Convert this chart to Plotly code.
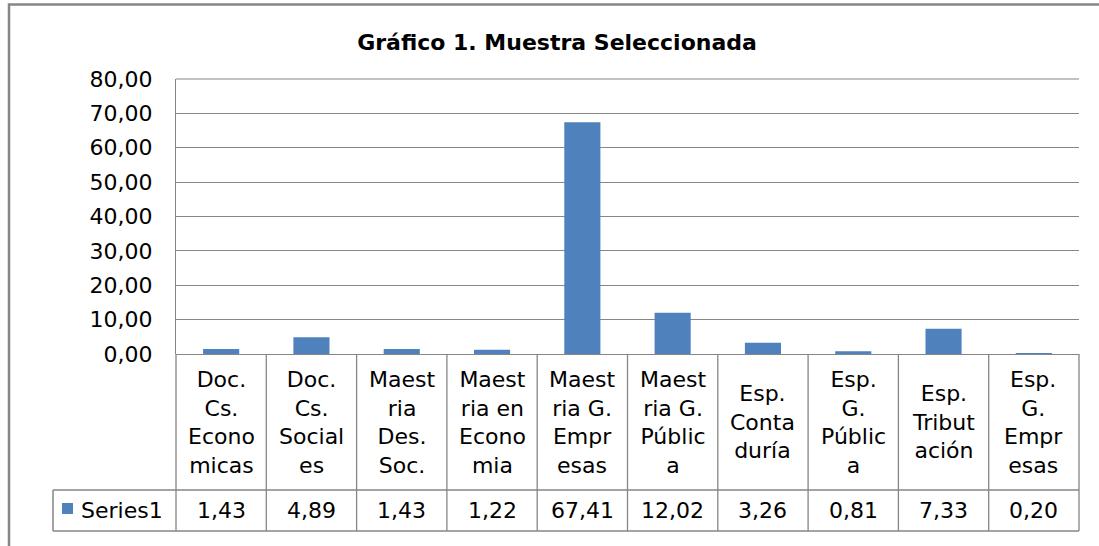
import plotly.graph_objects as go

# ---- data ----
categories = [
    "Doc. Cs. Economicas", "Doc. Cs. Sociales", "Maestria Des. Soc.",
    "Maestria en Economia", "Maestria G. Empresas", "Maestria G. Pública",
    "Esp. Contaduría", "Esp. G. Pública", "Esp. Tributación", "Esp. G. Empresas",
]
category_lines = [
    ["Doc.", "Cs.", "Econo", "micas"],
    ["Doc.", "Cs.", "Social", "es"],
    ["Maest", "ria", "Des.", "Soc."],
    ["Maest", "ria en", "Econo", "mia"],
    ["Maest", "ria G.", "Empr", "esas"],
    ["Maest", "ria G.", "Públic", "a"],
    ["Esp.", "Conta", "duría"],
    ["Esp.", "G.", "Públic", "a"],
    ["Esp.", "Tribut", "ación"],
    ["Esp.", "G.", "Empr", "esas"],
]
series_name = "Series1"
values = [1.43, 4.89, 1.43, 1.22, 67.41, 12.02, 3.26, 0.81, 7.33, 0.20]
y_ticks = [0, 10, 20, 30, 40, 50, 60, 70, 80]
title_text = "Gráfico 1. Muestra Seleccionada"

# ---- style ----
W, H = 1099, 546
ML, MR, MT, MB = 176, 20, 79, 192
PW, PH = W - ML - MR, H - MT - MB
BAR = "#4F81BD"
LINE = "#868686"
FONT = "DejaVu Sans"
FS = 22

def px_x(px):  # pixel -> paper x
    return (px - ML) / PW

def px_y(py):  # pixel -> paper y
    return (H - MB - py) / PH

fig = go.Figure(go.Bar(x=categories, y=values, marker_color=BAR,
                       marker_line_width=0, name=series_name))

n = len(categories)
row1_bot = px_y(490)
row2_bot = px_y(531)

shapes = []
# top gridline (at the range edge)
shapes.append(dict(type="line", xref="paper", yref="paper",
                   x0=0, x1=1, y0=1, y1=1, line=dict(color=LINE, width=1.2)))
# vertical table lines
for k in range(n + 1):
    shapes.append(dict(type="line", xref="paper", yref="paper",
                       x0=k / n, x1=k / n, y0=0, y1=row2_bot,
                       line=dict(color=LINE, width=1.3)))
# horizontal table lines
for yy in (row1_bot, row2_bot):
    shapes.append(dict(type="line", xref="paper", yref="paper",
                       x0=px_x(53), x1=1, y0=yy, y1=yy,
                       line=dict(color=LINE, width=1.5)))
# legend cell left edge
shapes.append(dict(type="line", xref="paper", yref="paper",
                   x0=px_x(53), x1=px_x(53), y0=row1_bot, y1=row2_bot,
                   line=dict(color=LINE, width=1.5)))
# legend key
shapes.append(dict(type="rect", xref="paper", yref="paper",
                   x0=px_x(62), x1=px_x(73), y0=px_y(514), y1=px_y(503),
                   fillcolor=BAR, line=dict(width=0)))
# outer chart border
shapes.append(dict(type="rect", xref="paper", yref="paper",
                   x0=px_x(9), x1=px_x(1110), y0=px_y(560), y1=px_y(4.5),
                   fillcolor="rgba(0,0,0,0)", line=dict(color=LINE, width=2.5)))

annotations = []
for cat, lines, v in zip(categories, category_lines, values):
    annotations.append(dict(x=cat, xref="x", y=(0 + row1_bot) / 2, yref="paper",
                            text="<br>".join(lines), showarrow=False,
                            xanchor="center", yanchor="middle", align="center",
                            font=dict(family=FONT, size=FS, color="black")))
    annotations.append(dict(x=cat, xref="x", y=(row1_bot + row2_bot) / 2, yref="paper",
                            text=f"{v:.2f}".replace(".", ","), showarrow=False,
                            xanchor="center", yanchor="middle",
                            font=dict(family=FONT, size=FS, color="black")))
annotations.append(dict(x=px_x(79), xref="paper", y=(row1_bot + row2_bot) / 2, yref="paper",
                        text=series_name, showarrow=False, xanchor="left", yanchor="middle",
                        font=dict(family=FONT, size=FS, color="black")))

fig.update_layout(
    width=W, height=H,
    margin=dict(l=ML, r=MR, t=MT, b=MB, autoexpand=False),
    paper_bgcolor="white", plot_bgcolor="white",
    separators=",.",
    showlegend=False,
    bargap=0.6,
    title=dict(text=f"<b>{title_text}</b>", x=557 / W, xref="container", xanchor="center",
               y=1 - 42 / H, yref="container", yanchor="middle",
               font=dict(family=FONT, size=22, color="black")),
    xaxis=dict(showticklabels=False, ticks="", showgrid=False, showline=False,
               zeroline=False, range=[-0.5, n - 0.5]),
    yaxis=dict(range=[0, 80], tickvals=y_ticks, tickformat=".2f",
               showgrid=True, gridcolor=LINE, gridwidth=1.2,
               showline=True, linecolor=LINE, linewidth=1.3,
               zeroline=True, zerolinecolor=LINE, zerolinewidth=1.3,
               ticks="", ticklabelstandoff=18,
               tickfont=dict(family=FONT, size=FS, color="black")),
    shapes=shapes, annotations=annotations,
)

fig.write_html("out.html", config={"displayModeBar": False},
               post_script="document.body.style.margin='0';document.body.style.padding='0';")
